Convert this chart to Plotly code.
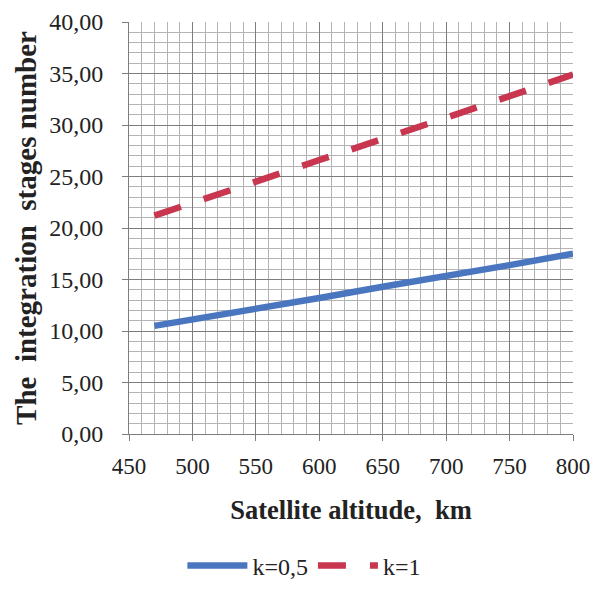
import plotly.graph_objects as go

altitude = [470, 500, 550, 600, 650, 700, 750, 800]
k05 = [10.5, 11.1, 12.2, 13.2, 14.3, 15.3, 16.4, 17.5]
k1 = [21.2, 22.4, 24.5, 26.6, 28.6, 30.7, 32.8, 34.9]
names = ["k=0,5", "k=1"]

font_family = "Liberation Serif"

fig = go.Figure()
fig.add_trace(go.Scatter(x=altitude, y=k05, mode="lines", name=names[0],
                         line=dict(color="#4A76C0", width=6.5)))
fig.add_trace(go.Scatter(x=altitude, y=k1, mode="lines", name=names[1],
                         line=dict(color="#C8364F", width=6.5, dash="28px,24px")))

fig.update_layout(
    width=594, height=601,
    margin=dict(l=129, r=21, t=22, b=158),
    paper_bgcolor="white", plot_bgcolor="white",
    separators=", ",
    font=dict(family=font_family, size=24, color="#222"),
    showlegend=True,
    legend=dict(orientation="h", x=0.395, xanchor="center", y=-0.32, yanchor="middle",
                font=dict(size=24, family=font_family), itemwidth=60),
)
fig.update_xaxes(
    range=[450, 800], dtick=50, tick0=450, automargin=False,
    showgrid=True, gridcolor="#7d7d7d", gridwidth=1,
    minor=dict(dtick=10, showgrid=True, gridcolor="#b3b3b3", gridwidth=1),
    ticks="outside", ticklen=6, tickcolor="#7d7d7d",
    showline=True, linecolor="#7d7d7d", linewidth=1,
    zeroline=False, ticklabelstandoff=5, ticklabeloverflow="allow",
    title=dict(text="<b>Satellite altitude,  km</b>", font=dict(size=26.5, family=font_family), standoff=22),
    tickfont=dict(size=23, family=font_family),
)
fig.update_yaxes(
    range=[0, 40], dtick=5, tickformat=".2f", automargin=False,
    showgrid=True, gridcolor="#7d7d7d", gridwidth=1,
    minor=dict(dtick=1, showgrid=True, gridcolor="#b3b3b3", gridwidth=1),
    ticks="outside", ticklen=6, tickcolor="#7d7d7d",
    showline=True, linecolor="#7d7d7d", linewidth=1,
    zeroline=False, ticklabelstandoff=14,
    title=dict(text="<b>The  integration  stages number</b>", font=dict(size=29, family=font_family), standoff=4),
    tickfont=dict(size=24, family=font_family),
)

fig.write_html("out.html", config={"displayModeBar": False},
               post_script="document.body.style.margin='0';")
